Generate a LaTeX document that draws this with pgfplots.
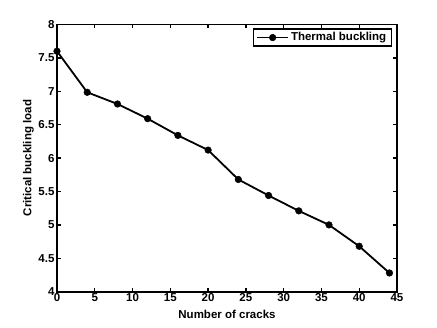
\documentclass[border=0pt]{standalone}
\usepackage{fontspec}
\setmainfont{Liberation Sans}
\usepackage{pgfplots}
\pgfplotsset{compat=1.18}
\begin{document}
\begin{tikzpicture}[x=1pt,y=1pt]
\useasboundingbox (-57,-36.3) rectangle (380,291.7);
\begin{axis}[
  at={(0,0)}, anchor=south west,
  scale only axis, width=340pt, height=267.2pt,
  xmin=0, xmax=45, ymin=4, ymax=8,
  xtick={0,5,...,45}, ytick={4,4.5,...,8},
  tick align=inside, major tick length=4pt,
  axis line style={line width=1.8pt},
  every tick/.style={line width=1.3pt, black},
  tick label style={font=\bfseries\fontsize{11.5}{13}\selectfont},
  xticklabel style={yshift=2pt},
  yticklabel style={xshift=1pt},
  /pgf/number format/assume math mode=true,
  xlabel={\bfseries Number of cracks},
  ylabel={\bfseries Critical buckling load},
  label style={font=\bfseries\fontsize{11.5}{13}\selectfont},
  xlabel style={at={(axis description cs:0.5,0)}, anchor=north, yshift=-15pt},
  ylabel style={at={(axis description cs:-0.058,0.5)}, anchor=south},
  legend style={at={(0.985,0.985)}, anchor=north east, draw=black, line width=1.3pt,
    font=\bfseries\fontsize{11.5}{13}\selectfont, inner xsep=3pt, inner ysep=1.5pt},
  legend image code/.code={
    \draw[#1, mark=none] (0pt,0pt) -- (31pt,0pt);
    \draw[#1, only marks] plot coordinates {(15.5pt,0pt)};
  },
  legend cell align=left,
]
\addplot[black, line width=1.8pt, mark=*, mark size=3.3pt, mark options={line width=0.5pt}] coordinates {
(0,7.60) (4,6.985) (8,6.81) (12,6.59) (16,6.34) (20,6.12)
(24,5.68) (28,5.44) (32,5.21) (36,5.00) (40,4.68) (44,4.28)
};
\addlegendentry{Thermal buckling}
\end{axis}
\end{tikzpicture}
\end{document}
